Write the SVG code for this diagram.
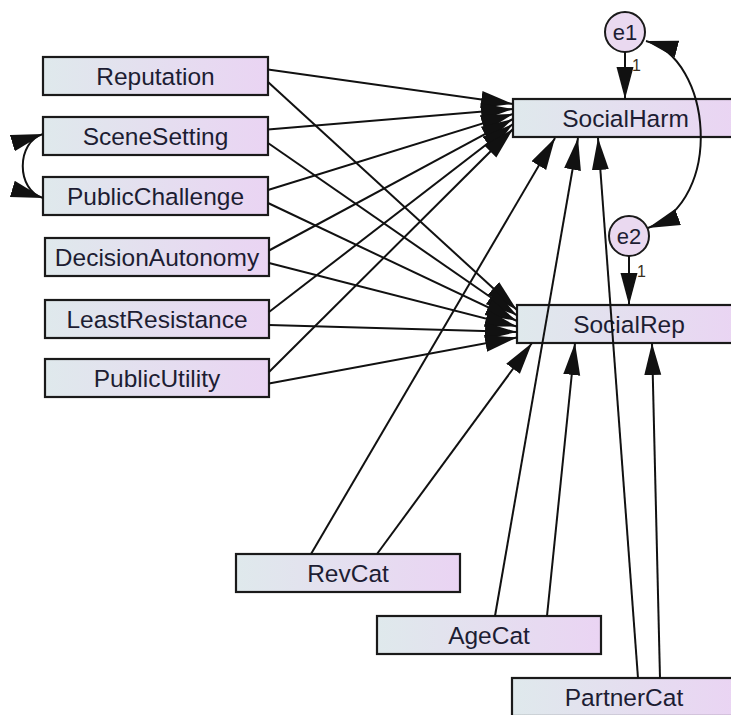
<svg xmlns="http://www.w3.org/2000/svg" width="731" height="715" viewBox="0 0 731 715">
<style>
.box{stroke:#1a1a1a;stroke-width:2.2;fill:url(#g)}
.lat{stroke:#1a1a1a;stroke-width:2;fill:#ead9f0}
.t{font-family:"Liberation Sans",Arial,sans-serif;font-size:24.5px;fill:#1d1d33;text-anchor:middle}
.te{font-family:"Liberation Sans",Arial,sans-serif;font-size:22px;fill:#1d1d33;text-anchor:middle}
.c{stroke:#111;stroke-width:2;fill:none;marker-end:url(#a)}
.cv{stroke:#111;stroke-width:2;fill:none;marker-end:url(#a);marker-start:url(#a)}
</style>
<defs>
<linearGradient id="g" x1="0" y1="0" x2="1" y2="0">
<stop offset="0" stop-color="#dfe9ec"/>
<stop offset="1" stop-color="#ead4f3"/>
</linearGradient>
<marker id="a" markerUnits="userSpaceOnUse" markerWidth="34" markerHeight="18" refX="32" refY="8.5" orient="auto-start-reverse" viewBox="0 0 34 18">
<path d="M0,0 L32,8.5 L0,17 z" fill="#111"/>
</marker>
</defs>
<rect width="731" height="715" fill="#fff"/>
<g id="Reputation"><rect class="box" x="43" y="57" width="225" height="38"/><text class="t" x="155.5" y="84.5">Reputation</text></g>
<g id="SceneSetting"><rect class="box" x="43" y="117" width="225" height="38"/><text class="t" x="155.5" y="144.5">SceneSetting</text></g>
<g id="PublicChallenge"><rect class="box" x="43" y="177" width="225" height="38"/><text class="t" x="155.5" y="204.5">PublicChallenge</text></g>
<g id="DecisionAutonomy"><rect class="box" x="45" y="238" width="224" height="38"/><text class="t" x="157" y="265.5">DecisionAutonomy</text></g>
<g id="LeastResistance"><rect class="box" x="45" y="300" width="224" height="38"/><text class="t" x="157" y="327.5">LeastResistance</text></g>
<g id="PublicUtility"><rect class="box" x="45" y="359" width="224" height="38"/><text class="t" x="157" y="386.5">PublicUtility</text></g>
<g id="SocialHarm"><rect class="box" x="513" y="99" width="225" height="38"/><text class="t" x="625.5" y="126.5">SocialHarm</text></g>
<g id="SocialRep"><rect class="box" x="517" y="305" width="225" height="38"/><text class="t" x="629" y="332.5">SocialRep</text></g>
<g id="e1"><circle class="lat" cx="625" cy="32" r="20"/><text class="te" x="625" y="40">e1</text></g>
<g id="e2"><circle class="lat" cx="629" cy="236" r="20"/><text class="te" x="629" y="244">e2</text></g>
<g id="RevCat"><rect class="box" x="236" y="554" width="224" height="38"/><text class="t" x="348" y="581.5">RevCat</text></g>
<g id="AgeCat"><rect class="box" x="377" y="616" width="224" height="38"/><text class="t" x="489" y="643.5">AgeCat</text></g>
<g id="PartnerCat"><rect class="box" x="512" y="678" width="225" height="38"/><text class="t" x="624" y="705.5">PartnerCat</text></g>
<g id="connectors">
<line class="c" x1="268" y1="69.5" x2="513" y2="104"/>
<line class="c" x1="268" y1="129.5" x2="513" y2="109"/>
<line class="c" x1="268" y1="190" x2="513" y2="114"/>
<line class="c" x1="269" y1="250.5" x2="513" y2="119"/>
<line class="c" x1="269" y1="312" x2="513" y2="124"/>
<line class="c" x1="269" y1="372" x2="513" y2="129"/>
<line class="c" x1="268" y1="82" x2="517" y2="310"/>
<line class="c" x1="268" y1="143" x2="517" y2="315.5"/>
<line class="c" x1="268" y1="203" x2="517" y2="321"/>
<line class="c" x1="269" y1="263" x2="517" y2="326.5"/>
<line class="c" x1="269" y1="325" x2="517" y2="332"/>
<line class="c" x1="269" y1="383.5" x2="517" y2="337.5"/>
<line class="c" x1="311" y1="554" x2="555" y2="138"/>
<line class="c" x1="377" y1="554" x2="532" y2="343"/>
<line class="c" x1="495" y1="616" x2="578" y2="138"/>
<line class="c" x1="547" y1="616" x2="575" y2="343"/>
<line class="c" x1="638" y1="678" x2="598" y2="138"/>
<line class="c" x1="660" y1="678" x2="652" y2="343"/>
<line class="c" x1="625" y1="52" x2="625" y2="99"/>
<line class="c" x1="629" y1="256" x2="629" y2="305"/>
<path class="cv" d="M646,41 C712,58 725,200 648,228"/>
<path class="cv" d="M43,134 C16,142 16,190 43,198"/>
<text x="632" y="71" font-family="Liberation Sans, Arial, sans-serif" font-size="16" fill="#3a3020">1</text>
<text x="637" y="277" font-family="Liberation Sans, Arial, sans-serif" font-size="16" fill="#3a3020">1</text>
</g>
</svg>
